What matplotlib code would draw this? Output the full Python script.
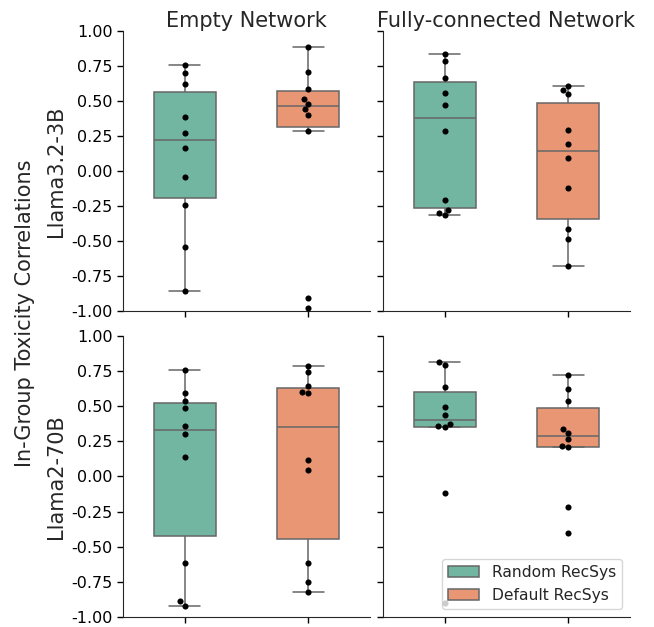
import matplotlib
matplotlib.use("Agg")
import matplotlib.pyplot as plt
import pandas as pd
import seaborn as sns

# Data (10 correlations per box)

RECSYS = ["Random RecSys", "Default RecSys"]
COLUMNS = ["Empty Network", "Fully-connected Network"]
MODELS = ["Llama3.2-3B", "Llama2-70B"]

# Llama3.2-3B, empty network
l3_empty_random = [0.757, 0.700, 0.622, 0.383, 0.271, 0.164, -0.047, -0.242, -0.541, -0.855]
l3_empty_default = [0.881, 0.703, 0.584, 0.515, 0.480, 0.440, 0.401, 0.287, -0.904, -0.975]

# Llama3.2-3B, fully-connected network
l3_full_random = [0.831, 0.781, 0.660, 0.556, 0.468, 0.283, -0.211, -0.278, -0.297, -0.313]
l3_full_default = [0.606, 0.577, 0.551, 0.290, 0.193, 0.091, -0.120, -0.413, -0.484, -0.679]

# Llama2-70B, empty network
l70_empty_random = [0.762, 0.593, 0.536, 0.489, 0.360, 0.305, 0.136, -0.616, -0.888, -0.921]
l70_empty_default = [0.791, 0.743, 0.643, 0.603, 0.596, 0.117, 0.048, -0.614, -0.754, -0.821]

# Llama2-70B, fully-connected network
l70_full_random = [0.814, 0.798, 0.636, 0.498, 0.439, 0.371, 0.360, 0.350, -0.121, -0.904]
l70_full_default = [0.726, 0.621, 0.536, 0.339, 0.310, 0.264, 0.221, 0.207, -0.221, -0.404]

PANELS = {
    (0, 0): (l3_empty_random, l3_empty_default),
    (0, 1): (l3_full_random, l3_full_default),
    (1, 0): (l70_empty_random, l70_empty_default),
    (1, 1): (l70_full_random, l70_full_default),
}

YTICKS = [1.00, 0.75, 0.50, 0.25, 0.00, -0.25, -0.50, -0.75, -1.00]


def _panel_frame(random_vals, default_vals):
    rows = [(RECSYS[0], v) for v in random_vals] + [(RECSYS[1], v) for v in default_vals]
    return pd.DataFrame(rows, columns=["recsys", "corr"])


sns.set_style("white")
plt.rcParams["font.family"] = ["DejaVu Sans"]

fig, axes = plt.subplots(2, 2, figsize=(6.54, 6.27), dpi=100, sharey=True)
fig.subplots_adjust(left=0.188, right=0.963, top=0.951, bottom=0.0165,
                    wspace=0.053, hspace=0.09)

palette = sns.color_palette("Set2", 2)

for (r, c), (rand, dflt) in PANELS.items():
    ax = axes[r, c]
    df = _panel_frame(rand, dflt)
    sns.boxplot(data=df, x="recsys", y="corr", hue="recsys", order=RECSYS,
                hue_order=RECSYS, palette=palette, width=0.5,
                showfliers=False, legend=False, linecolor="#666666",
                linewidth=1.1, ax=ax)
    sns.swarmplot(data=df, x="recsys", y="corr", order=RECSYS,
                  color="black", size=4.4, ax=ax)

    ax.set_ylim(-1.0, 1.0)
    ax.set_yticks(YTICKS)
    ax.set_xticks([0, 1])
    ax.set_xticklabels(["", ""])
    ax.set_xlabel("")
    ax.set_ylabel("")
    ax.tick_params(axis="both", labelsize=11.5, length=4, width=1,
                   left=True, bottom=True, colors="black")
    sns.despine(ax=ax)

    if r == 0:
        ax.set_title(COLUMNS[c], fontsize=15, pad=3)
    if c == 0:
        ax.set_ylabel(MODELS[r], fontsize=15)
        ax.set_yticklabels([f"{t:.2f}" for t in YTICKS])

fig.text(0.038, 0.5, "In-Group Toxicity Correlations", rotation=90,
         ha="center", va="center", fontsize=15)

# legend from the boxes of the last panel
leg_ax = axes[1, 1]
handles = leg_ax.patches[:2]
leg_ax.legend(handles, RECSYS, loc="lower right", fontsize=11.2)

fig.savefig("out.png", dpi=100)
